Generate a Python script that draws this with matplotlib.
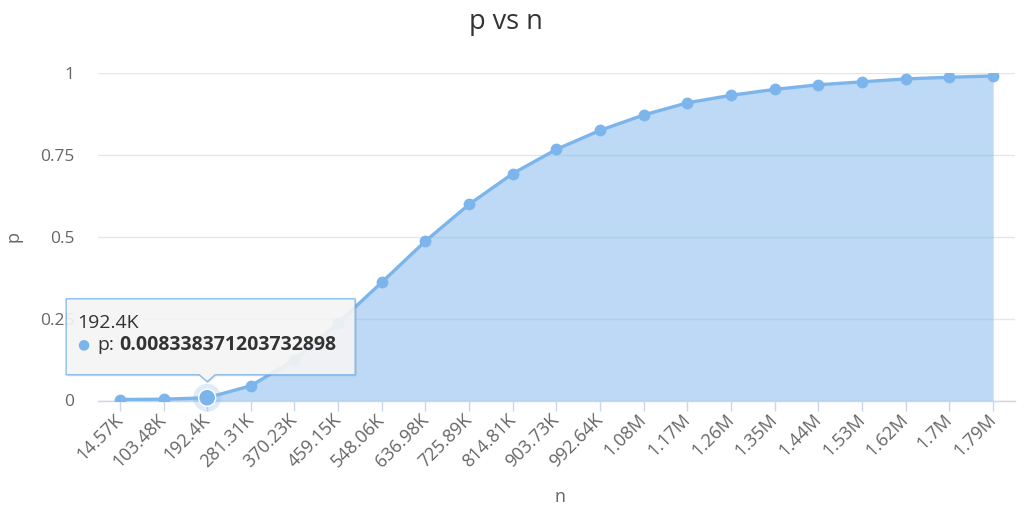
import matplotlib
matplotlib.use("Agg")
import matplotlib.pyplot as plt
from matplotlib.patches import Polygon, Circle
from matplotlib.transforms import Affine2D

plt.rcParams['font.family'] = ['Open Sans', 'DejaVu Sans']

n_labels = ["14.57K", "103.48K", "192.4K", "281.31K", "370.23K", "459.15K", "548.06K",
            "636.98K", "725.89K", "814.81K", "903.73K", "992.64K", "1.08M", "1.17M",
            "1.26M", "1.35M", "1.44M", "1.53M", "1.62M", "1.7M", "1.79M"]
p_values = [0.003, 0.004, 0.008338371203732898, 0.045, 0.124, 0.237, 0.361,
            0.487, 0.599, 0.693, 0.767, 0.825, 0.872, 0.909, 0.932, 0.950,
            0.964, 0.973, 0.982, 0.987, 0.991]
y_ticks = [0, 0.25, 0.5, 0.75, 1]
y_tick_labels = ["0", "0.25", "0.5", "0.75", "1"]
hover_index = 2

blue = "#7cb5ec"
W, H = 1027, 521
fig = plt.figure(figsize=(W / 100, H / 100), dpi=100)
ax = fig.add_axes([98 / W, 1 - 400.5 / H, (1015 - 98) / W, (400.5 - 73) / H])

x = list(range(len(n_labels)))
ax.fill_between(x, 0, p_values, color=blue, alpha=0.5, linewidth=0, zorder=1)
ax.plot(x, p_values, color=blue, linewidth=2.4, marker="o", markersize=8.5,
        markeredgewidth=0, zorder=3, solid_capstyle="round")

ax.set_xlim(-0.5, len(n_labels) - 0.5)
ax.set_ylim(0, 1)
ax.set_xticks(x)
ax.set_xticklabels(n_labels, rotation=45, ha="right", va="center", rotation_mode="anchor")
ax.set_yticks(y_ticks)
ax.set_yticklabels(y_tick_labels)

ax.tick_params(axis="x", colors="#ccd6eb", labelcolor="#666666", labelsize=13,
               length=7, width=1, pad=5)
ax.tick_params(axis="y", length=0, labelcolor="#666666", labelsize=12.5, pad=17)

ax.grid(axis="y", color="#e6e6e6", linewidth=1)
ax.set_axisbelow(True)
for side in ["top", "right", "left"]:
    ax.spines[side].set_visible(False)
ax.spines["bottom"].set_color("#ccd6eb")
ax.spines["bottom"].set_linewidth(1)
ax.spines["bottom"].set_zorder(0.5)

fig.text(506 / W, 1 - 22 / H, "p vs n", ha="center", va="center", fontsize=19.5, color="#333333")
fig.text(560 / W, 1 - 497 / H, "n", ha="center", va="center", fontsize=13, color="#666666")
fig.text(14 / W, 1 - 237 / H, "p", ha="center", va="center", fontsize=13,
         color="#666666", rotation=90)

# hovered point and its tooltip, placed in pixels around the point
hx, hy = hover_index, p_values[hover_index]
px, py = ax.transData.transform((hx, hy))
to_px = Affine2D().translate(px, py)

ax.add_artist(Circle((0, 0), 14, transform=to_px, facecolor=blue, alpha=0.25,
                     edgecolor="none", zorder=4, clip_on=False))
ax.add_artist(Circle((0, 0), 8.5, transform=to_px, facecolor=blue, edgecolor="white",
                     linewidth=1, zorder=5, clip_on=False))

left, right, bottom, top = -141, 148, 23, 99
tip = 16
box = [(left, bottom), (-8, bottom), (0, tip), (8, bottom), (right, bottom),
       (right, top), (left, top)]
ax.add_artist(Polygon([(vx + 1.5, vy - 1.5) for vx, vy in box], closed=True,
                      transform=to_px, facecolor="black", alpha=0.10,
                      edgecolor="none", zorder=6, clip_on=False))
ax.add_artist(Polygon(box, closed=True, transform=to_px, facecolor="#f7f7f7", alpha=0.9,
                      edgecolor=blue, linewidth=1, zorder=7, clip_on=False))

ax.annotate(n_labels[hover_index], xy=(hx, hy), xytext=(-130, 75), textcoords="offset pixels",
            ha="left", va="center", fontsize=14, color="#333333", zorder=8,
            annotation_clip=False)
ax.annotate("\u25cf", xy=(hx, hy), xytext=(-124, 53), textcoords="offset pixels",
            ha="center", va="center", fontsize=10, color=blue, zorder=8,
            annotation_clip=False)
ax.annotate("p:", xy=(hx, hy), xytext=(-110, 53), textcoords="offset pixels",
            ha="left", va="center", fontsize=14, color="#333333", zorder=8,
            annotation_clip=False)
ax.annotate(repr(p_values[hover_index]), xy=(hx, hy), xytext=(-88, 53),
            textcoords="offset pixels", ha="left", va="center", fontsize=14,
            fontweight="bold", color="#333333", zorder=8, annotation_clip=False)

fig.savefig("out.png", dpi=100)
